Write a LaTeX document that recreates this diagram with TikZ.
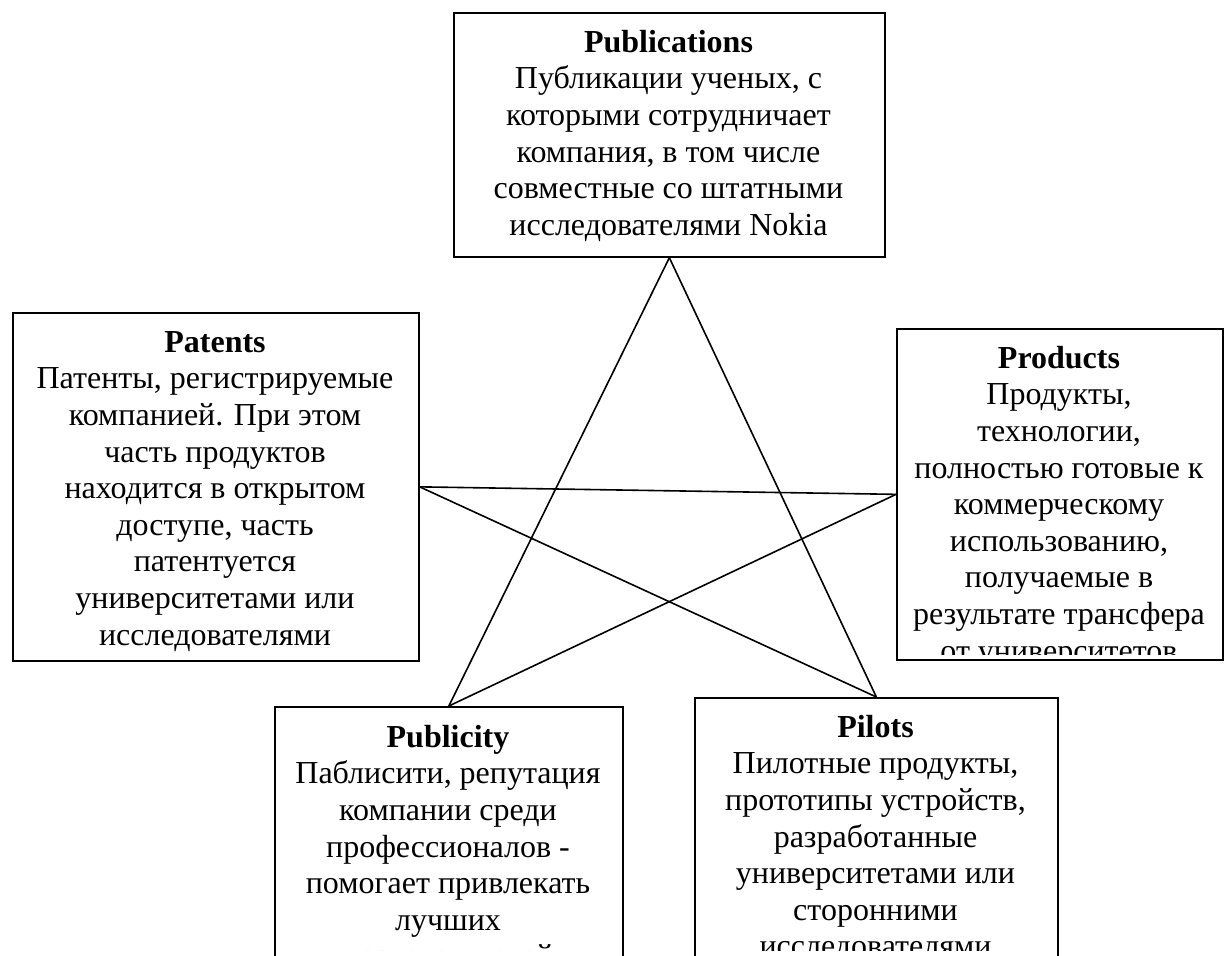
\documentclass[tikz,border=0pt]{standalone}
\usepackage{fontspec}
\setmainfont{Liberation Serif}
\begin{document}
\begin{tikzpicture}[x=1pt,y=-1pt,
  box/.style={draw, line width=1.7pt, inner sep=0pt, anchor=north west},
  txt/.style={align=center, inner sep=0pt, anchor=north,
              font=\fontsize{32}{36.6}\selectfont},
  link/.style={line width=1.6pt}]
\useasboundingbox (0,0) rectangle (1224,956);
\begin{scope}
\clip (0,0) rectangle (1224,956);

% frames of the five blocks
\node[box, minimum width=431pt, minimum height=244pt] (pub)  at (453,12)  {};
\node[box, minimum width=406pt, minimum height=348pt] (pat)  at (12,312)  {};
\node[box, minimum width=326pt, minimum height=331pt] (prod) at (896,328) {};
\node[box, minimum width=348pt, minimum height=300pt] (pbl)  at (274,706) {};
\node[box, minimum width=363pt, minimum height=310pt] (pil)  at (694,697) {};

% texts, cut off at the lower edge of each frame
\begin{scope}
\clip (453,12) rectangle (884,254);
\node[txt] (pubtxt) at (668.5,22) {\rule{0pt}{30pt}\textbf{Publications}\\
Публикации ученых, с\\которыми сотрудничает\\компания, в том числе\\
совместные со штатными\\исследователями Nokia};
\end{scope}

\begin{scope}
\clip (12,312) rectangle (418,657);
\node[txt] (pattxt) at (215,322) {\rule{0pt}{30pt}\textbf{Patents}\\
Патенты, регистрируемые\\компанией. При этом\\часть продуктов\\
находится в открытом\\доступе, часть\\патентуется\\университетами или\\исследователями};
\end{scope}

\begin{scope}
\clip (896,328) rectangle (1222,654);
\node[txt] (prodtxt) at (1059,338) {\rule{0pt}{30pt}\textbf{Products}\\
Продукты,\\технологии,\\полностью готовые к\\коммерческому\\использованию,\\
получаемые в\\результате трансфера\\от университетов};
\end{scope}

\begin{scope}
\clip (274,706) rectangle (622,950);
\node[txt] (pbltxt) at (448,717) {\rule{0pt}{30pt}\textbf{Publicity}\\
Паблисити, репутация\\компании среди\\профессионалов -\\помогает привлекать\\
лучших\\исследователей};
\end{scope}

\begin{scope}
\clip (694,697) rectangle (1057,950);
\node[txt] (piltxt) at (875.5,707) {\rule{0pt}{30pt}\textbf{Pilots}\\
Пилотные продукты,\\прототипы устройств,\\разработанные\\университетами или\\
сторонними\\исследователями};
\end{scope}

% the pentagram joining the blocks
\draw[link] (pub.south) -- (pbl.north);
\draw[link] (pub.south) -- (pil.north);
\draw[link] (pat.east) -- (prod.west);
\draw[link] (pat.east) -- (pil.north);
\draw[link] (prod.west) -- (pbl.north);
\end{scope}
\end{tikzpicture}
\end{document}
